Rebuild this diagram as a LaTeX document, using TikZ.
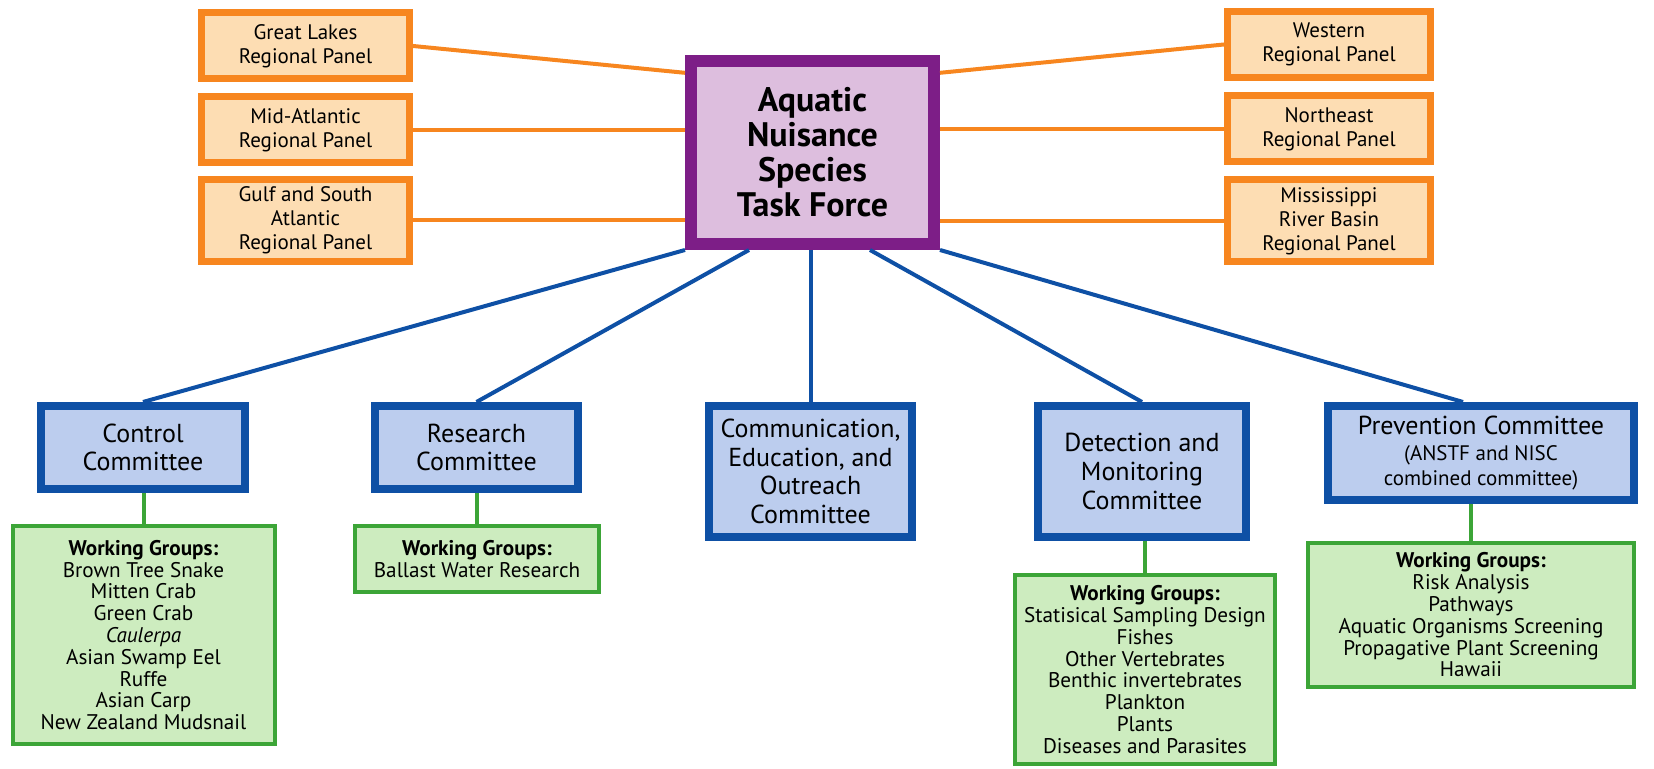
\documentclass[tikz,border=0pt]{standalone}
\usepackage{fontspec}
\setmainfont{PT Sans}
\usetikzlibrary{calc}
\definecolor{panelline}{RGB}{247,134,31}
\definecolor{panelfill}{RGB}{253,221,179}
\definecolor{tfline}{RGB}{125,30,135}
\definecolor{tffill}{RGB}{221,190,222}
\definecolor{comline}{RGB}{14,80,165}
\definecolor{comfill}{RGB}{188,205,238}
\definecolor{wgline}{RGB}{60,165,55}
\definecolor{wgfill}{RGB}{205,236,191}

\begin{document}
\begin{tikzpicture}[x=0.5pt,y=0.5pt,
    panel/.style={draw=panelline,line width=3.5pt,fill=panelfill,inner sep=0pt,align=center,
        minimum width=104pt,minimum height=33pt,font=\fontsize{10.5}{12}\selectfont},
    taskforce/.style={draw=tfline,line width=6pt,fill=tffill,inner sep=0pt,align=center,
        minimum width=121.5pt,minimum height=91.5pt,font=\fontsize{17}{17.5}\selectfont\bfseries},
    committee/.style={draw=comline,line width=4pt,fill=comfill,inner sep=0pt,align=center,
        minimum width=101.5pt,font=\fontsize{13}{14.4}\selectfont},
    groups/.style={draw=wgline,line width=2pt,fill=wgfill,inner sep=0pt,align=center,
        font=\fontsize{10.6}{10.9}\selectfont},
    orangeline/.style={draw=panelline,line width=2pt},
    blueline/.style={draw=comline,line width=2pt},
    greenline/.style={draw=wgline,line width=2pt}]
        \useasboundingbox (0,0) rectangle (1654,769);

        % task force and regional panels
        \node[taskforce] (TF) at (812.5,616.5) {Aquatic\\Nuisance\\Species\\Task Force};
        \node[panel] (GL) at (305.5,723) {Great Lakes\\Regional Panel};
        \node[panel] (MA) at (305.5,639) {Mid-Atlantic\\Regional Panel};
        \node[panel,minimum height=41pt] (GS) at (305.5,548.5) {Gulf and South\\Atlantic\\Regional Panel};
        \node[panel,minimum width=101.5pt] (W) at (1329,724.5) {Western\\Regional Panel};
        \node[panel,minimum width=101.5pt] (NE) at (1329,640) {Northeast\\Regional Panel};
        \node[panel,minimum width=101.5pt,minimum height=41pt] (MR) at (1329,548) {Mississippi\\River Basin\\Regional Panel};

        % committees
        \node[committee,minimum width=102pt,minimum height=41.5pt] (C) at (143,321.5) {Control\\Committee};
        \node[committee,minimum height=41.5pt] (R) at (476.5,321.5) {Research\\Committee};
        \node[committee,minimum height=65.5pt] (E) at (810.5,297.5) {Communication,\\Education, and\\Outreach\\Committee};
        \node[committee,minimum width=104pt,minimum height=65.5pt] (D) at (1142,297.5) {Detection and\\Monitoring\\Committee};
        \node[committee,minimum width=153pt,minimum height=47pt] (P) at (1481,316) {Prevention Committee\\[-1pt]
            {\fontsize{10.5}{10}\selectfont (ANSTF and NISC}\\[-2pt]{\fontsize{10.5}{10}\selectfont combined committee)}};

        % working groups
        \node[groups,minimum width=131pt,minimum height=109pt] (CC) at (143.5,134) {\textbf{Working Groups:}\\Brown Tree Snake\\Mitten Crab\\Green Crab\\\textit{Caulerpa}\\Asian Swamp Eel\\Ruffe\\Asian Carp\\New Zealand Mudsnail};
        \node[groups,minimum width=122pt,minimum height=33pt] (RR) at (477,210) {\textbf{Working Groups:}\\Ballast Water Research};
        \node[groups,minimum width=130pt,minimum height=94.5pt] (DD) at (1145,99.5) {\textbf{Working Groups:}\\Statisical Sampling Design\\Fishes\\Other Vertebrates\\Benthic invertebrates\\Plankton\\Plants\\Diseases and Parasites};
        \node[groups,minimum width=163pt,minimum height=72pt] (PP) at (1471,154) {\textbf{Working Groups:}\\Risk Analysis\\Pathways\\Aquatic Organisms Screening\\Propagative Plant Screening\\Hawaii};

        \draw[orangeline] (GL.east) -- (TF.148);
        \draw[orangeline] (MA.east) -- (MA.east -| TF.west);
        \draw[orangeline] (GS.east) -- (GS.east -| TF.west);
        \draw[orangeline] (W.west) -- (TF.32);
        \draw[orangeline] (NE.west) -- (NE.west -| TF.east);
        \draw[orangeline] (MR.west) -- (MR.west -| TF.east);

        \draw[blueline] (TF.south west) -- (C.north);
        \draw[blueline] ($(TF.south)+(-63.5,0)$) -- (R.north);
        \draw[blueline] (E.north |- TF.south) -- (E.north);
        \draw[blueline] ($(TF.south)+(57.5,0)$) -- (D.north);
        \draw[blueline] (TF.south east) -- ($(P.north)+(-18,0)$);

        \draw[greenline] (CC.north) -- (CC.north |- C.south);
        \draw[greenline] (RR.north) -- (RR.north |- R.south);
        \draw[greenline] (DD.north) -- (DD.north |- D.south);
        \draw[greenline] (PP.north) -- (PP.north |- P.south);

    \end{tikzpicture}
\end{document}
